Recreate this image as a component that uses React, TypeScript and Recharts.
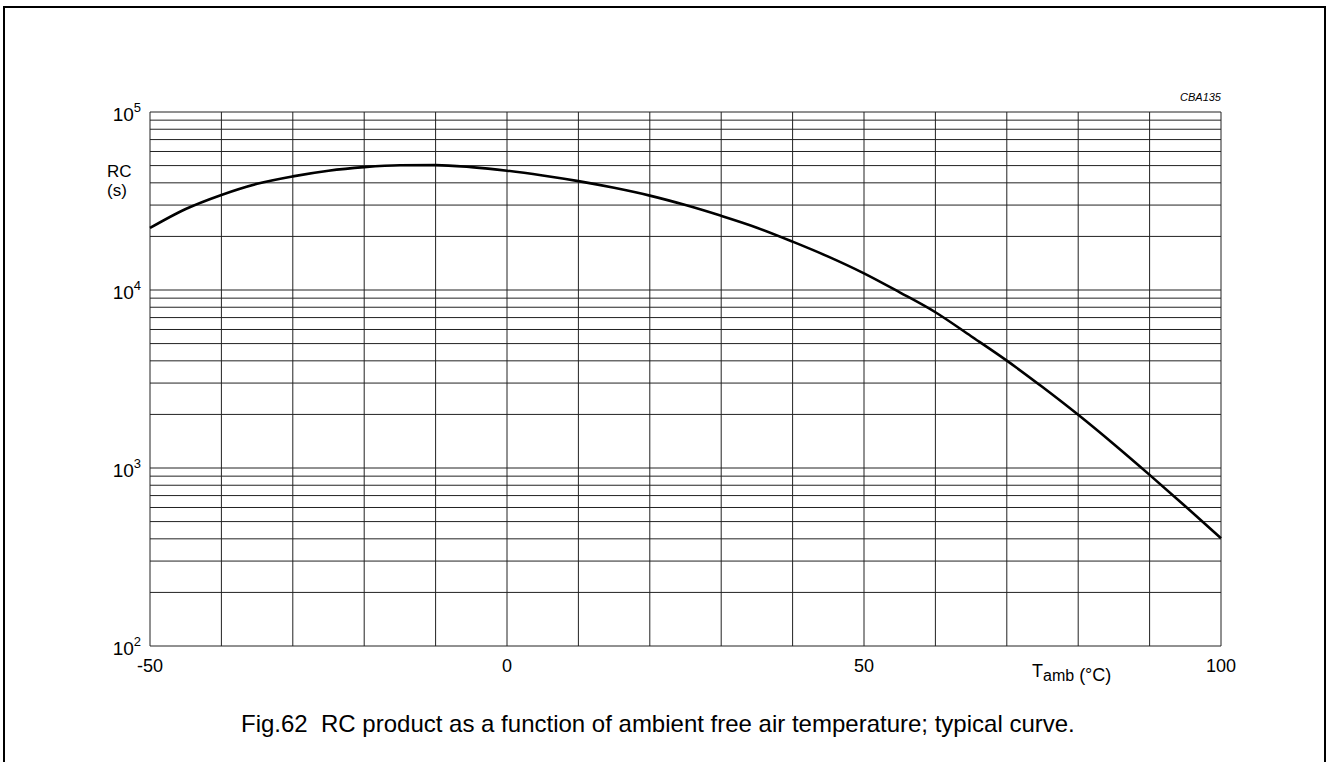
import { CartesianGrid, Line, LineChart, XAxis, YAxis } from "recharts";

const temps = [-50, -45, -40, -35, -30, -25, -20, -15, -10, -5, 0, 5, 10, 15, 20, 25, 30, 35, 40, 45, 50, 55, 60, 65, 70, 75, 80, 85, 90, 95, 100];
const rcValues = [22300, 28500, 34200, 39500, 43500, 46800, 49000, 50200, 50300, 49000, 46800, 44000, 40900, 37500, 33900, 30000, 26100, 22400, 18700, 15400, 12400, 9700, 7500, 5500, 4010, 2850, 1990, 1360, 915, 610, 403];

const xGridTicks = [-50, -40, -30, -20, -10, 0, 10, 20, 30, 40, 50, 60, 70, 80, 90, 100];
const xLabels = [-50, 0, 50, 100];
const decades = [100, 1000, 10000, 100000];
const yGridTicks = [100, 200, 300, 400, 500, 600, 700, 800, 900, 1000, 2000, 3000, 4000, 5000, 6000, 7000, 8000, 9000, 10000, 20000, 30000, 40000, 50000, 60000, 70000, 80000, 90000, 100000];

const data = temps.map((t, i) => ({ t, rc: rcValues[i] }));

const font = "'Liberation Sans', Arial, sans-serif";

function XTick({ x, y, payload }: any) {
  if (!xLabels.includes(payload.value)) return null;
  return (
    <text x={x} y={y + 18} textAnchor="middle" fontSize={18} fontFamily={font} fill="#000">
      {payload.value}
    </text>
  );
}

function YTick({ x, y, payload }: any) {
  if (!decades.includes(payload.value)) return null;
  const exp = Math.round(Math.log10(payload.value));
  return (
    <text x={x - 1} y={y + 9} textAnchor="end" fontSize={19} fontFamily={font} fill="#000">
      10<tspan dy={-9} fontSize={13}>{exp}</tspan>
    </text>
  );
}

export default function App() {
  return (
    <div style={{ position: "absolute", left: 0, top: 0, width: 1326, height: 762, background: "#fff", overflow: "hidden" }}>
      <div style={{ position: "absolute", left: 3, top: 6, width: 1319, height: 800, border: "2px solid #000" }} />
      <div style={{ position: "absolute", left: 0, top: 0 }}>
        <LineChart width={1326} height={762} data={data} margin={{ top: 112, right: 105, bottom: 86, left: 90 }}>
          <CartesianGrid stroke="#222" strokeWidth={1} />
          <XAxis
            dataKey="t"
            type="number"
            domain={[-50, 100]}
            ticks={xGridTicks}
            interval={0}
            height={30}
            axisLine={false}
            tickLine={false}
            tick={<XTick />}
          />
          <YAxis
            dataKey="rc"
            scale="log"
            domain={[100, 100000]}
            ticks={yGridTicks}
            interval={0}
            width={60}
            axisLine={false}
            tickLine={false}
            allowDataOverflow
            tick={<YTick />}
          />
          <Line type="monotone" dataKey="rc" stroke="#000" strokeWidth={2.6} dot={false} isAnimationActive={false} />
        </LineChart>
      </div>
      <svg width={1326} height={762} style={{ position: "absolute", left: 0, top: 0, pointerEvents: "none" }}>
        <text x={107} y={177} fontSize={17} fontFamily={font}>RC</text>
        <text x={107} y={196} fontSize={17} fontFamily={font}>(s)</text>
        <text x={1221} y={101} textAnchor="end" fontSize={11} fontStyle="italic" fontFamily={font}>CBA135</text>
        <text x={1032} y={677} fontSize={18} fontFamily={font}>
          T<tspan dy={4} fontSize={16}>amb</tspan><tspan dy={0} fontSize={18}> (°C)</tspan>
        </text>
        <text x={241} y={732} fontSize={24} fontFamily={font} style={{ whiteSpace: "pre" }}>
          Fig.62  RC product as a function of ambient free air temperature; typical curve.
        </text>
      </svg>
    </div>
  );
}
